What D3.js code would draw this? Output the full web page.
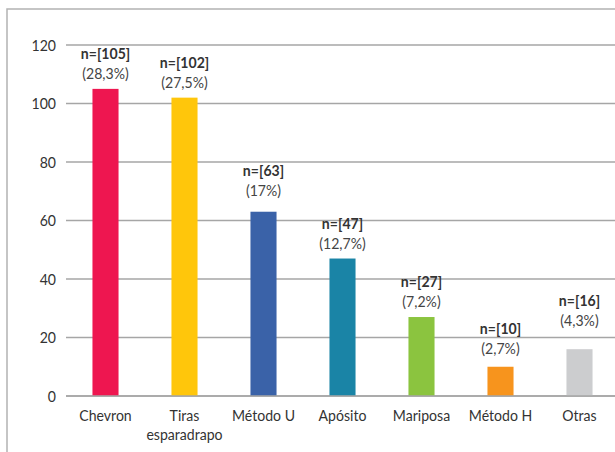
<!DOCTYPE html>
<html>
<head>
<meta charset="utf-8">
<script src="https://cdn.jsdelivr.net/npm/d3@7"></script>
<style>
  body { margin: 0; background: #fff; }
  svg { display: block; font-family: Lato, "Open Sans", sans-serif; }
  .ytick { fill: #333; font-size: 16px; }
  .grid line { stroke: #a6a6a6; stroke-width: 1.5; }
  .lbl-n { font-weight: bold; font-size: 16px; fill: #333; }
  .lbl-p { font-size: 16px; fill: #444; }
  .cat { font-size: 16px; fill: #333; }
</style>
</head>
<body>
<div id="chart"></div>
<script>
// Técnicas de fijación: recuento y porcentaje

var categories = [ 'Chevron', 'Tiras esparadrapo', 'Método U', 'Apósito', 'Mariposa', 'Método H', 'Otras' ];
var counts = [ 105, 102, 63, 47, 27, 10, 16 ];
var percents = [ '28,3%', '27,5%', '17%', '12,7%', '7,2%', '2,7%', '4,3%' ];
var colors = [ '#ee1650', '#ffc60b', '#3a62a8', '#1a84a6', '#8bc43f', '#f7941d', '#cccdcf' ];
var yTicks = [ 0, 20, 40, 60, 80, 100, 120 ];

// Hand-placed label nudges from the original (px, upward is negative)
var labelNudge = [ 0, 0, -6, 0, 0, -3, -13 ];

var width = 615;
var height = 452;
var margin = { top: 45, right: -4, bottom: 56, left: 66 };

// Text in the original is slightly condensed
var squeeze = 0.88;

var svg = d3.select( '#chart' ).append( 'svg' )
  .attr( 'width', width )
  .attr( 'height', height );

// Outer frame (top and left edges visible)
svg.append( 'path' )
  .attr( 'd', 'M7,' + height + 'V9H' + width )
  .attr( 'fill', 'none' )
  .attr( 'stroke', '#b3b3b3' )
  .attr( 'stroke-width', 1.5 );

var g = svg.append( 'g' )
  .attr( 'transform', 'translate(' + margin.left + ',' + margin.top + ')' );

var w = width - margin.left - margin.right;
var h = height - margin.top - margin.bottom;

var x = d3.scaleBand()
  .domain( categories )
  .range( [ 0, w ] )
  .paddingInner( 0.67 )
  .paddingOuter( 0.335 );

var y = d3.scaleLinear()
  .domain( [ 0, 120 ] )
  .range( [ h, 0 ] );

// Gridlines
g.append( 'g' )
  .attr( 'class', 'grid' )
  .selectAll( 'line' )
  .data( yTicks )
  .enter().append( 'line' )
  .attr( 'x1', 0 )
  .attr( 'x2', w )
  .attr( 'y1', function( d ) { return y( d ); } )
  .attr( 'y2', function( d ) { return y( d ); } );

// Y axis labels
g.append( 'g' )
  .selectAll( 'text' )
  .data( yTicks )
  .enter().append( 'text' )
  .attr( 'class', 'ytick' )
  .attr( 'text-anchor', 'end' )
  .attr( 'dy', '0.35em' )
  .attr( 'transform', function( d ) {
    return 'translate(-10,' + y( d ) + ') scale(' + squeeze + ',1)';
  } )
  .text( function( d ) { return d; } );

// Bars
g.selectAll( '.bar' )
  .data( counts )
  .enter().append( 'rect' )
  .attr( 'class', 'bar' )
  .attr( 'x', function( d, i ) { return x( categories[ i ] ); } )
  .attr( 'width', x.bandwidth() )
  .attr( 'y', function( d ) { return y( d ); } )
  .attr( 'height', function( d ) { return h - y( d ); } )
  .attr( 'fill', function( d, i ) { return colors[ i ]; } );

// Redraw baseline over bars
g.append( 'line' )
  .attr( 'x1', 0 ).attr( 'x2', w )
  .attr( 'y1', y( 0 ) ).attr( 'y2', y( 0 ) )
  .attr( 'stroke', '#a6a6a6' )
  .attr( 'stroke-width', 1.5 );

// Value labels
var labels = g.selectAll( '.vlabel' )
  .data( counts )
  .enter().append( 'g' )
  .attr( 'class', 'vlabel' )
  .attr( 'transform', function( d, i ) {
    return 'translate(' + ( x( categories[ i ] ) + x.bandwidth() / 2 ) + ',' +
      ( y( d ) + labelNudge[ i ] ) + ') scale(' + squeeze + ',1)';
  } );

labels.append( 'text' )
  .attr( 'class', 'lbl-n' )
  .attr( 'text-anchor', 'middle' )
  .attr( 'y', -30 )
  .text( function( d ) { return 'n=[' + d + ']'; } );

labels.append( 'text' )
  .attr( 'class', 'lbl-p' )
  .attr( 'text-anchor', 'middle' )
  .attr( 'y', -10 )
  .text( function( d, i ) { return '(' + percents[ i ] + ')'; } );

// Category labels (wrapped for the two-word one)
g.selectAll( '.cat' )
  .data( categories )
  .enter().append( 'text' )
  .attr( 'class', 'cat' )
  .attr( 'text-anchor', 'middle' )
  .attr( 'transform', function( d ) {
    return 'translate(' + ( x( d ) + x.bandwidth() / 2 ) + ',' + ( h + 25 ) + ') scale(' + squeeze + ',1)';
  } )
  .each( function( d ) {
    var words = d === 'Tiras esparadrapo' ? [ 'Tiras', 'esparadrapo' ] : [ d ];
    var t = d3.select( this );
    words.forEach( function( wd, k ) {
      t.append( 'tspan' )
        .attr( 'x', 0 )
        .attr( 'dy', k === 0 ? 0 : 19 )
        .text( wd );
    } );
  } );
</script>
</body>
</html>
